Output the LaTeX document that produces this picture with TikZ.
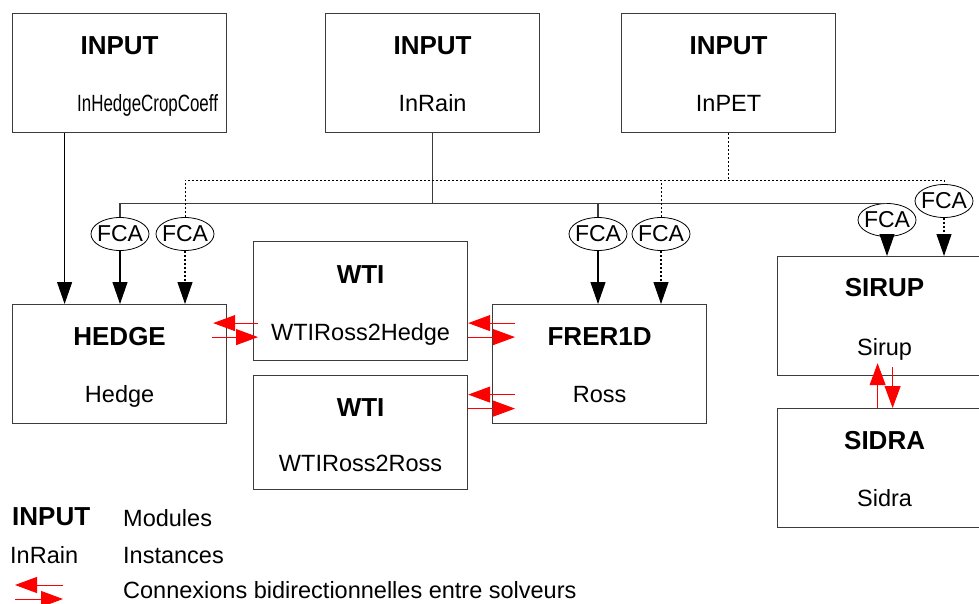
\documentclass[tikz,border=0pt]{standalone}
\usepackage{fontspec}
\setmainfont{Liberation Sans}
\usepackage{graphicx}
\usepackage{xcolor}
\definecolor{fcgray}{RGB}{60,60,60}
\definecolor{fcred}{RGB}{255,0,0}
\usetikzlibrary{arrows.meta, positioning, shapes.geometric, calc}

\begin{document}
\begin{tikzpicture}[x=1pt, y=-1pt,
  modbox/.style={draw=fcgray, line width=1.2pt, anchor=north west,
                 minimum width=214pt, minimum height=119pt, inner sep=0pt},
  modtitle/.style={anchor=base, inner sep=0pt, font=\fontsize{26}{30}\selectfont\bfseries},
  modinst/.style={anchor=base, inner sep=0pt, font=\fontsize{23.5}{28}\selectfont},
  fcabox/.style={draw=black, ellipse, line width=0.8pt, minimum width=58pt,
                 minimum height=33pt, inner xsep=-4pt, inner ysep=0pt,
                 font=\fontsize{23}{26}\selectfont},
  bus/.style={draw=fcgray, line width=1.1pt},
  dotbus/.style={draw=black, line width=0.9pt, dash pattern=on 2pt off 2pt},
  arr/.style={-{Triangle[length=22pt,width=15pt]}, line width=1.1pt, black},
  xarr/.style={-{Triangle[length=22pt,width=16pt]}, line width=0.9pt, fcred}]

  \useasboundingbox (0,0) rectangle (979,604);
  \clip (0,0) rectangle (979,604);
  \fill[white] (0,0) rectangle (979,604);

  % Inputs (top row)
  \node[modbox] (inHCC) at (12,13) {};
  \node[modtitle] (inHCCt) at ([yshift=-42pt]inHCC.north) {INPUT};
  \node[modinst] (inHCCi) at ([xshift=28pt,yshift=-99pt]inHCC.north) {\scalebox{0.72}[1]{InHedgeCropCoeff}};

  \node[modbox] (inRain) at (325,13) {};
  \node[modtitle] (inRaint) at ([yshift=-42pt]inRain.north) {INPUT};
  \node[modinst] (inRaini) at ([yshift=-99pt]inRain.north) {InRain};

  \node[modbox] (inPET) at (621,13) {};
  \node[modtitle] (inPETt) at ([yshift=-42pt]inPET.north) {INPUT};
  \node[modinst] (inPETi) at ([yshift=-99pt]inPET.north) {InPET};

  % Solvers and WTI modules
  \node[modbox] (hedge) at (12,304) {};
  \node[modtitle] (hedget) at ([yshift=-41pt]hedge.north) {HEDGE};
  \node[modinst] (hedgei) at ([yshift=-98pt]hedge.north) {Hedge};

  \node[modbox] (wtiA) at (253,241) {};
  \node[modtitle] (wtiAt) at ([yshift=-42pt]wtiA.north) {WTI};
  \node[modinst] (wtiAi) at ([yshift=-99pt]wtiA.north) {WTIRoss2Hedge};

  \node[modbox, minimum height=114pt] (wtiB) at (253,375) {};
  \node[modtitle] (wtiBt) at ([yshift=-41pt]wtiB.north) {WTI};
  \node[modinst] (wtiBi) at ([yshift=-96pt]wtiB.north) {WTIRoss2Ross};

  \node[modbox] (frer) at (492,304) {};
  \node[modtitle] (frert) at ([yshift=-41pt]frer.north) {FRER1D};
  \node[modinst] (freri) at ([yshift=-98pt]frer.north) {Ross};

  \node[modbox] (sirup) at (777,256) {};
  \node[modtitle] (sirupt) at ([yshift=-40pt]sirup.north) {SIRUP};
  \node[modinst] (sirupi) at ([yshift=-99pt]sirup.north) {Sirup};

  \node[modbox] (sidra) at (777,408) {};
  \node[modtitle] (sidrat) at ([yshift=-41pt]sidra.north) {SIDRA};
  \node[modinst] (sidrai) at ([yshift=-98pt]sidra.north) {Sidra};

  % FCA aggregators
  \node[fcabox] (fcaH1) at (120,234) {FCA};
  \node[fcabox] (fcaH2) at (185,234) {FCA};
  \node[fcabox] (fcaF1) at (598,234) {FCA};
  \node[fcabox] (fcaF2) at (661,234) {FCA};
  \node[fcabox] (fcaS1) at (887,220) {FCA};
  \node[fcabox] (fcaS2) at (944,201) {FCA};

  % Rain bus (solid)
  \draw[bus] (fcaH1.north) |- (fcaS1.north);
  \draw[bus] (inRain.south) -- (inRain.south |- fcaS1.north);
  \draw[bus] (fcaF1.north) -- (fcaF1.north |- fcaS1.north);

  % PET bus (dotted)
  \coordinate (petbus) at (inPET.south |- 0,180);
  \draw[dotbus] (inPET.south) -- (petbus);
  \draw[dotbus] (fcaH2.north) |- (fcaS2.north |- petbus) -- (fcaS2.north);
  \draw[dotbus] (fcaF2.north) -- (fcaF2.north |- petbus);

  % Inputs into solvers
  \draw[arr] ([xshift=-55pt]inHCC.south) -- ([xshift=-55pt]hedge.north);
  \draw[arr] (fcaH1.south) -- (fcaH1.south |- hedge.north);
  \draw[arr, dash pattern=on 2pt off 2pt] (fcaH2.south) -- (fcaH2.south |- hedge.north);
  \draw[arr] (fcaF1.south) -- (fcaF1.south |- frer.north);
  \draw[arr, dash pattern=on 2pt off 2pt] (fcaF2.south) -- (fcaF2.south |- frer.north);
  \draw[arr] (fcaS1.south) -- (fcaS1.south |- sirup.north);
  \draw[arr, dash pattern=on 2pt off 2pt] (fcaS2.south) -- (fcaS2.south |- sirup.north);

  % Solver exchanges (red)
  \draw[xarr] ($(wtiA.west)+(5,22)$) -- ($(hedge.east |- wtiA.west)+(-14,22)$);
  \draw[xarr] ($(hedge.east |- wtiA.west)+(-15,36)$) -- ($(wtiA.west)+(5,36)$);
  \draw[xarr] ($(frer.west |- wtiA.east)+(23,22)$) -- ($(wtiA.east)+(0,22)$);
  \draw[xarr] ($(wtiA.east)+(0,36)$) -- ($(frer.west |- wtiA.east)+(23,36)$);
  \draw[xarr] ($(frer.west |- wtiB.east)+(23,-38)$) -- ($(wtiB.east)+(0,-38)$);
  \draw[xarr] ($(wtiB.east)+(0,-24)$) -- ($(frer.west |- wtiB.east)+(23,-24)$);
  \draw[xarr] ($(sidra.north)+(-7,0)$) -- ($(sirup.south)+(-7,-13)$);
  \draw[xarr] ($(sirup.south)+(8,-9)$) -- ($(sidra.north)+(8,0)$);

  % Legend
  \node[modtitle, anchor=base west] (lgMod) at (12,525) {INPUT};
  \node[modinst, anchor=base west] (lgModT) at (123,526) {Modules};
  \node[modinst, anchor=base west] (lgInst) at (10,563) {InRain};
  \node[modinst, anchor=base west] (lgInstT) at (123,563) {Instances};
  \coordinate (lgA) at (63,585);
  \coordinate (lgB) at (15,585);
  \coordinate (lgC) at (15,599);
  \coordinate (lgD) at (63,599);
  \draw[xarr] (lgA) -- (lgB);
  \draw[xarr] (lgC) -- (lgD);
  \node[modinst, anchor=base west] (lgConT) at (123,598) {Connexions bidirectionnelles entre solveurs};
\end{tikzpicture}
\end{document}
